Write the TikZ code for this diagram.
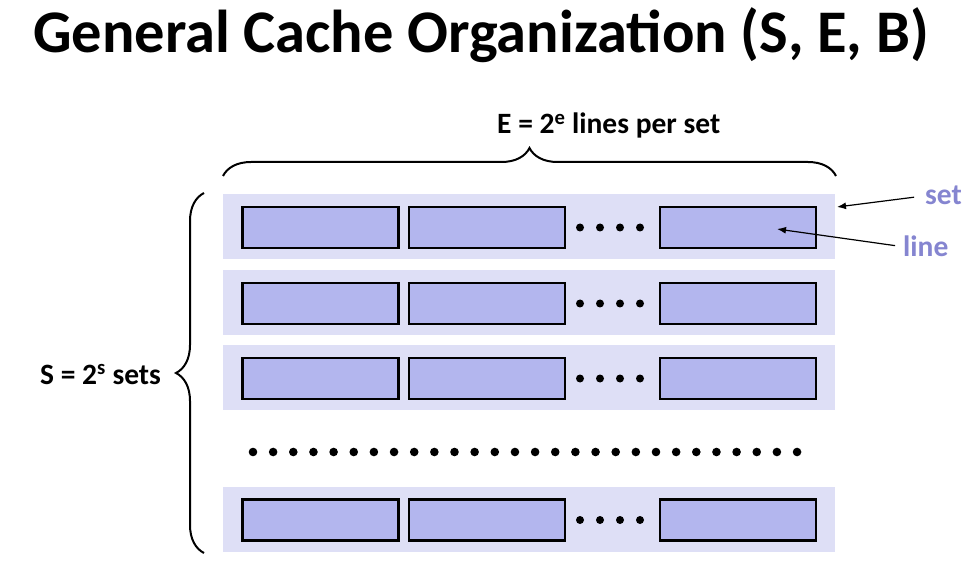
\documentclass[tikz,border=0pt]{standalone}
\usepackage{fontspec}
\setmainfont{Carlito}
\usetikzlibrary{decorations.pathreplacing,arrows.meta}
\definecolor{setbg}{HTML}{DEDFF6}
\definecolor{linefill}{HTML}{B3B6EE}
\definecolor{lblblue}{HTML}{8585D0}
\tikzset{
  setrow/.style={fill=setbg, inner sep=0, minimum width=612pt, minimum height=65pt},
  cacheline/.style={draw, line width=2.6pt, fill=linefill, inner sep=0, minimum width=156pt, minimum height=41pt},
  brace/.style={decorate, decoration={brace, amplitude=28pt}, line width=2pt},
  ptr/.style={-{Latex[length=9pt,width=7pt]}, line width=1.2pt},
  lbl/.style={font=\fontsize{29.5}{34}\selectfont\bfseries, inner sep=0}
}
\begin{document}
\begin{tikzpicture}[x=1pt,y=-1pt]
\useasboundingbox (0,0) rectangle (977,569);

\node[anchor=base west, inner sep=0, font=\fontsize{60.5}{70}\selectfont\bfseries] (title) at (33,53) {General Cache Organization (S, E, B)};

% the sets
\foreach \i/\y in {1/226.5, 2/302.5, 3/377.5, 4/519} {
  \node[setrow] (set\i) at (529,\y) {};
  \node[cacheline] (l\i a) at (320.5,\y+1) {};
  \node[cacheline] (l\i b) at (487,\y+1) {};
  \node[cacheline] (l\i c) at (738,\y+1) {};
  \foreach \x in {580,600,620,640}
    \fill (\x,\y+1) circle (4pt);
}

% more sets
\foreach \k in {0,...,27}
  \fill (253+\k*20.15,452) circle (4.3pt);

% braces
\coordinate (topL) at (223,176);
\coordinate (topR) at (836,176);
\draw[brace] (topL) -- (topR);
\node[lbl, anchor=base west] (Elbl) at (497,134) {E = 2\textsuperscript{e} lines per set};

\coordinate (leftB) at (204,553);
\coordinate (leftT) at (204,193);
\draw[brace] (leftB) -- (leftT);
\node[lbl, anchor=base west] (Slbl) at (40,384) {S = 2\textsuperscript{s} sets};

% pointers
\node[lbl, text=lblblue, anchor=base west] (setlbl) at (925,205) {set};
\node[lbl, text=lblblue, anchor=base west] (linelbl) at (903,257) {line};
\coordinate (settip) at (837,207);
\coordinate (linetip) at (777,229);
\draw[ptr, shorten <=11pt] (setlbl.west) -- (settip);
\draw[ptr, shorten <=8pt] (linelbl.west) -- (linetip);
\end{tikzpicture}
\end{document}
